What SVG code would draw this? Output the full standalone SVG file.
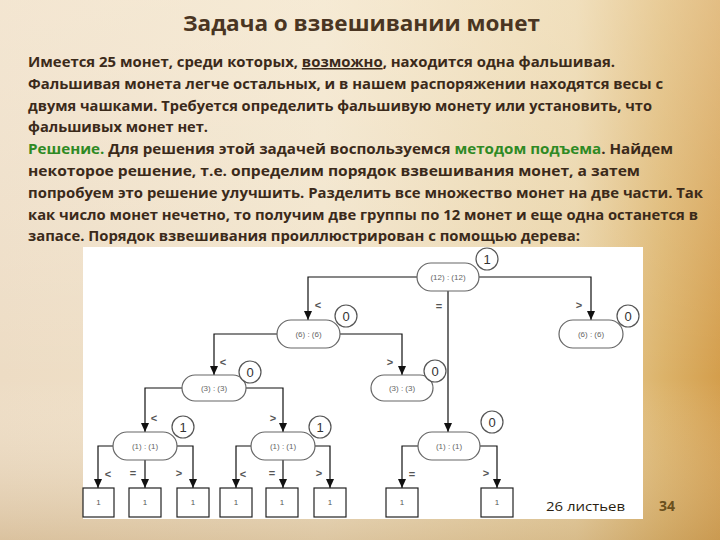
<svg xmlns="http://www.w3.org/2000/svg" width="720" height="540" viewBox="0 0 720 540">
<defs>
<linearGradient id="bgH" x1="0" y1="0" x2="1" y2="0">
<stop offset="0" stop-color="#eddcc4"/>
<stop offset="0.45" stop-color="#f1e3c9"/>
<stop offset="0.8" stop-color="#e9d2a4"/>
<stop offset="0.92" stop-color="#dcb36a"/>
<stop offset="1" stop-color="#d49e4c"/>
</linearGradient>
<linearGradient id="bgV" x1="0" y1="0" x2="0" y2="1">
<stop offset="0" stop-color="#fff8ea" stop-opacity="0.35"/>
<stop offset="0.7" stop-color="#ffffff" stop-opacity="0"/>
<stop offset="1" stop-color="#b8925a" stop-opacity="0.35"/>
</linearGradient>
<marker id="arr" markerUnits="userSpaceOnUse" markerWidth="9" markerHeight="8" refX="9" refY="4" orient="auto">
<path d="M0,0 L9,4 L0,8 z" fill="#111"/>
</marker>
<style>
.title{font-family:"Open Sans","Noto Sans","DejaVu Sans",sans-serif;font-weight:700;font-size:22px;fill:#4a3522}
.body{font-family:"Open Sans","Noto Sans","DejaVu Sans",sans-serif;font-weight:700;font-size:15px;fill:#3b2a1a}
.grn{fill:#2f8a24}
.node rect{fill:#fff;stroke:#666;stroke-width:1.2}
.node text{font-family:"Liberation Sans",Arial,sans-serif;font-size:8px;fill:#666;text-anchor:middle}
.badge circle{fill:#fff;stroke:#555;stroke-width:1.2}
.badge text{font-family:"Liberation Sans",Arial,sans-serif;font-size:13px;fill:#333;text-anchor:middle}
.leaf rect{fill:#fff;stroke:#222;stroke-width:1.2}
.leaf text{font-family:"Liberation Sans",Arial,sans-serif;font-size:8px;fill:#555;text-anchor:middle}
.conn path{fill:none;stroke:#111;stroke-width:1.2;marker-end:url(#arr)}
.lbl{font-family:"Liberation Sans",Arial,sans-serif;font-size:11px;font-weight:700;fill:#555;text-anchor:middle}
</style>
</defs>
<rect width="720" height="540" fill="url(#bgH)"/>
<rect width="720" height="540" fill="url(#bgV)"/>

<text class="title" x="183" y="31" textLength="357" lengthAdjust="spacingAndGlyphs">Задача о взвешивании монет</text>

<g id="paragraph">
<text class="body" x="28" y="67" textLength="587" lengthAdjust="spacingAndGlyphs">Имеется 25 монет, среди которых, <tspan text-decoration="underline">возможно</tspan>, находится одна фальшивая.</text>
<text class="body" x="28" y="88.8" textLength="635" lengthAdjust="spacingAndGlyphs">Фальшивая монета легче остальных, и в нашем распоряжении находятся весы с</text>
<text class="body" x="28" y="110.6" textLength="624" lengthAdjust="spacingAndGlyphs">двумя чашками. Требуется определить фальшивую монету или установить, что</text>
<text class="body" x="28" y="132.4" textLength="180" lengthAdjust="spacingAndGlyphs">фальшивых монет нет.</text>
<text class="body" x="28" y="154.2" textLength="645" lengthAdjust="spacingAndGlyphs"><tspan class="grn">Решение.</tspan> Для решения этой задачей воспользуемся <tspan class="grn">методом подъема</tspan>. Найдем</text>
<text class="body" x="28" y="176" textLength="612" lengthAdjust="spacingAndGlyphs">некоторое решение, т.е. определим порядок взвешивания монет, а затем</text>
<text class="body" x="28" y="197.8" textLength="675" lengthAdjust="spacingAndGlyphs">попробуем это решение улучшить. Разделить все множество монет на две части. Так</text>
<text class="body" x="28" y="219.6" textLength="670" lengthAdjust="spacingAndGlyphs">как число монет нечетно, то получим две группы по 12 монет и еще одна останется в</text>
<text class="body" x="28" y="241.4" textLength="552" lengthAdjust="spacingAndGlyphs">запасе. Порядок взвешивания проиллюстрирован с помощью дерева:</text>
</g>

<rect id="panel" x="83" y="247" width="560" height="272" fill="#fff"/>

<g id="connectors" class="conn">
<path d="M417,277 H308 V320"/>
<path d="M479,277 H591 V320"/>
<path d="M448,291 V432"/>
<path d="M277,334 H214 V375"/>
<path d="M340,334 H402 V375"/>
<path d="M182,388 H145 V432"/>
<path d="M246,388 H283 V432"/>
<path d="M113,446 H98 V488"/>
<path d="M145,460 V488"/>
<path d="M177,446 H193 V488"/>
<path d="M251,446 H236 V488"/>
<path d="M283,460 V488"/>
<path d="M315,446 H330 V488"/>
<path d="M418,446 H402 V488"/>
<path d="M480,446 H497 V488"/>
</g>

<g id="edge-labels">
<text class="lbl" x="318" y="309">&lt;</text>
<text class="lbl" x="579" y="309">&gt;</text>
<text class="lbl" x="439" y="310">=</text>
<text class="lbl" x="223" y="366">&lt;</text>
<text class="lbl" x="390" y="366">&gt;</text>
<text class="lbl" x="154" y="422">&lt;</text>
<text class="lbl" x="273" y="422">&gt;</text>
<text class="lbl" x="108" y="478">&lt;</text>
<text class="lbl" x="133" y="477">=</text>
<text class="lbl" x="179" y="477">&gt;</text>
<text class="lbl" x="243" y="478">&lt;</text>
<text class="lbl" x="272" y="477">=</text>
<text class="lbl" x="319" y="477">&gt;</text>
<text class="lbl" x="412" y="478">=</text>
<text class="lbl" x="486" y="477">&gt;</text>
</g>

<g id="n-root" class="node"><rect x="417" y="263" width="62" height="28" rx="14"/><text x="448" y="280">(12) : (12)</text></g>
<g id="b-root" class="badge"><circle cx="487" cy="259" r="11"/><text x="487" y="264">1</text></g>

<g id="n-6L" class="node"><rect x="277" y="320" width="63" height="28" rx="14"/><text x="308.5" y="337">(6) : (6)</text></g>
<g id="b-6L" class="badge"><circle cx="346" cy="316" r="11"/><text x="346" y="321">0</text></g>

<g id="n-6R" class="node"><rect x="559" y="320" width="64" height="28" rx="14"/><text x="591" y="337">(6) : (6)</text></g>
<g id="b-6R" class="badge"><circle cx="628" cy="316" r="11"/><text x="628" y="321">0</text></g>

<g id="n-3L" class="node"><rect x="182" y="375" width="64" height="26" rx="13"/><text x="214" y="391">(3) : (3)</text></g>
<g id="b-3L" class="badge"><circle cx="250" cy="372" r="11"/><text x="250" y="377">0</text></g>

<g id="n-3R" class="node"><rect x="371" y="375" width="62" height="26" rx="13"/><text x="402" y="391">(3) : (3)</text></g>
<g id="b-3R" class="badge"><circle cx="435" cy="371" r="11"/><text x="435" y="376">0</text></g>

<g id="n-1A" class="node"><rect x="113" y="432" width="64" height="28" rx="14"/><text x="145" y="449">(1) : (1)</text></g>
<g id="b-1A" class="badge"><circle cx="183" cy="427" r="11"/><text x="183" y="432">1</text></g>

<g id="n-1B" class="node"><rect x="251" y="432" width="64" height="28" rx="14"/><text x="283" y="449">(1) : (1)</text></g>
<g id="b-1B" class="badge"><circle cx="320" cy="427" r="11"/><text x="320" y="432">1</text></g>

<g id="n-1C" class="node"><rect x="418" y="432" width="62" height="28" rx="14"/><text x="449" y="449">(1) : (1)</text></g>
<g id="b-1C" class="badge"><circle cx="492" cy="422" r="11"/><text x="492" y="427">0</text></g>

<g id="leaf-1" class="leaf"><rect x="83" y="488" width="31" height="29"/><text x="98.5" y="505">1</text></g>
<g id="leaf-2" class="leaf"><rect x="129" y="488" width="32" height="29"/><text x="145" y="505">1</text></g>
<g id="leaf-3" class="leaf"><rect x="177" y="488" width="32" height="29"/><text x="193" y="505">1</text></g>
<g id="leaf-4" class="leaf"><rect x="220" y="488" width="32" height="29"/><text x="236" y="505">1</text></g>
<g id="leaf-5" class="leaf"><rect x="266" y="488" width="32" height="29"/><text x="282" y="505">1</text></g>
<g id="leaf-6" class="leaf"><rect x="314" y="488" width="32" height="29"/><text x="330" y="505">1</text></g>
<g id="leaf-7" class="leaf"><rect x="386" y="488" width="32" height="29"/><text x="402" y="505">1</text></g>
<g id="leaf-8" class="leaf"><rect x="481" y="488" width="32" height="29"/><text x="497" y="505">1</text></g>

<text x="546" y="511" font-family="'Open Sans','Noto Sans',sans-serif" font-size="13" fill="#2a1e12" textLength="79" lengthAdjust="spacingAndGlyphs">26 листьев</text>
<text x="659" y="511" font-family="'Open Sans','Noto Sans',sans-serif" font-size="14" font-weight="700" fill="#6a4f1c">34</text>
</svg>
